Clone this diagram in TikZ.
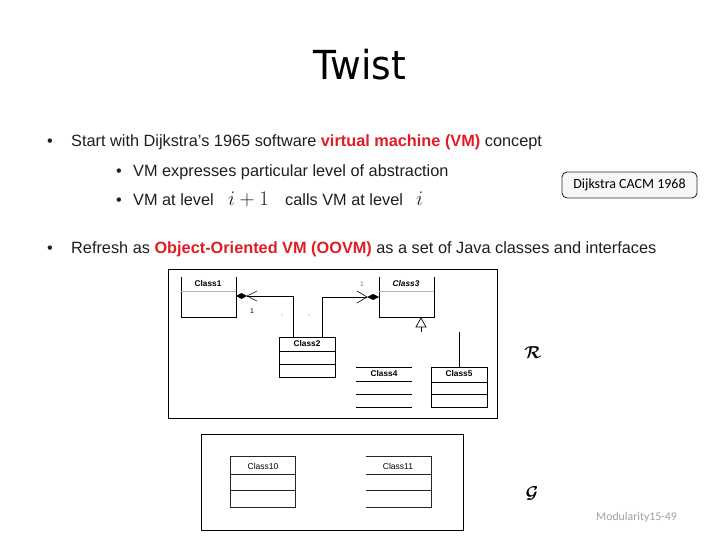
\documentclass[tikz,border=0pt]{standalone}
\usepackage{bm}
\usepackage{fontspec}
\setmainfont{Liberation Sans}
\newfontfamily\titlefont{DejaVu Sans}
\newfontfamily\calfont{Carlito}
\definecolor{hired}{RGB}{224,28,36}
\definecolor{txt}{RGB}{30,30,30}
\begin{document}
\begin{tikzpicture}[x=1pt,y=-1pt,
  body/.style={anchor=base west, inner sep=0, font=\fontsize{16.3}{19}\selectfont, text=txt},
  mathtxt/.style={anchor=base west, inner sep=0, font=\fontsize{20}{22}\selectfont, text=txt},
  umlline/.style={line width=0.8pt, black},
  sepline/.style={line width=0.8pt, gray!60},
  frame/.style={draw, line width=0.9pt, inner sep=0},
  clsname/.style={inner sep=0, font=\fontsize{8.3}{9}\selectfont\bfseries},
  clsname2/.style={inner sep=0, font=\fontsize{8.5}{9}\selectfont},
  tinylabel/.style={inner sep=0, font=\fontsize{7}{8}\selectfont},
  callig/.style={inner sep=0, font=\fontsize{18}{20}\selectfont}]
\useasboundingbox (0,0) rectangle (720,540);
% title
\node[inner sep=0, anchor=base, font=\titlefont\fontsize{40}{46}\selectfont] (title) at (360,80) {\scalebox{0.94}[1]{Twist}};
% bullets
\node[body] (b1) at (47,147) {•};
\node[body] (t1) at (71,147) {Start with Dijkstra’s 1965 software \textcolor{hired}{\textbf{virtual machine (VM)}} concept};
\node[body] (b2) at (116,177) {•};
\node[body] (t2) at (133,177) {VM expresses particular level of abstraction};
\node[body] (b3) at (116,206) {•};
\node[body] (t3) at (133,206) {VM at level};
\node[mathtxt] (m1) at (228,206) {$i+1$};
\node[body] (t3b) at (285,206) {calls VM at level};
\node[mathtxt] (m2) at (416,206) {$i$};
\node[body] (b4) at (47,254) {•};
\node[body] (t4) at (71,254) {Refresh as \textcolor{hired}{\textbf{Object-Oriented VM (OOVM)}} as a set of Java classes and interfaces};
% citation box
\node[draw=gray!35!black, fill=gray!6, rounded corners=5pt, line width=0.9pt, minimum width=135, minimum height=26, inner sep=0, font=\calfont\fontsize{14}{16}\selectfont] (dij) at (629.5,185) {Dijkstra CACM 1968};
% frames
\node[frame, minimum width=329, minimum height=149] (f1) at (332.5,343.5) {};
\node[frame, minimum width=262, minimum height=96] (f2) at (332,482) {};
% Class1
\draw[umlline] (181,277) -- (181,317) -- (236,317) -- (236,277);
\draw[sepline] (181,291) -- (236,291);
\node[clsname] (c1) at (208,284) {Class1};
% Class3
\draw[umlline] (379,277) -- (379,317) -- (434,317) -- (434,277);
\draw[sepline] (379,291) -- (434,291);
\node[clsname, font=\fontsize{8.3}{9}\selectfont\bfseries\itshape] (c3) at (406,284) {Class3};
% Class2
\draw[umlline] (279,337) rectangle (335,377);
\draw[umlline] (279,351) -- (335,351) (279,364) -- (335,364);
\node[clsname] (c2) at (307,344) {Class2};
% Class4
\draw[umlline] (356,367) -- (412,367) (356,381) -- (412,381) (356,394) -- (412,394) (356,407) -- (412,407);
\node[clsname] (c4) at (384,374) {Class4};
% Class5
\draw[umlline] (431,367) rectangle (487,407);
\draw[umlline] (431,382) -- (487,382) (431,394) -- (487,394);
\node[clsname] (c5) at (459,374) {Class5};
% connectors
\coordinate (c2l) at (293,337);
\coordinate (c1tip) at (247,296);
\draw[umlline] (c2l) |- (c1tip);
\fill (236,296) -- (241.5,293) -- (247,296) -- (241.5,299) -- cycle;
\draw[line width=0.6pt] (257,291) -- (c1tip) -- (257,301);
\coordinate (c2r) at (322,337);
\coordinate (c3tip) at (367,297);
\draw[umlline] (c2r) |- (c3tip);
\fill (367,297) -- (373,294) -- (379,297) -- (373,300) -- cycle;
\draw[line width=0.6pt] (357,291) -- (c3tip) -- (357,303);
\node[tinylabel] (m1l) at (252,311) {1};
\node[tinylabel, text=gray] (m3l) at (362,284) {1};
\fill[gray] (282,315) circle (0.7);
\fill[gray] (309,315) circle (0.7);
% generalization
\coordinate (gtip) at (421,318);
\draw[line width=0.7pt] (gtip) -- (426,327) -- (416,327) -- cycle;
\draw[line width=0.7pt] (421,327) -- (421,332);
\coordinate (c5top) at (459,367);
\draw[umlline] (459,332) -- (c5top);
% Class10 / Class11
\draw[umlline, gray!30!black] (230,456) rectangle (295,507);
\draw[umlline, gray!30!black] (230,474) -- (295,474) (230,490) -- (295,490);
\node[clsname2] (c10) at (263,466) {Class10};
\draw[umlline, gray!30!black] (366,456) -- (431,456) -- (431,507) -- (366,507);
\draw[umlline, gray!30!black] (366,474) -- (431,474) (366,490) -- (431,490);
\node[clsname2] (c11) at (398,466) {Class11};
% calligraphic letters
\node[callig] (calR) at (533,353) {$\bm{\mathcal{R}}$};
\node[callig] (calG) at (532,493) {$\bm{\mathcal{G}}$};
% footer
\node[anchor=base west, inner sep=0, text=gray!75, font=\calfont\fontsize{11.8}{13}\selectfont] (foot) at (596,520) {Modularity15-49};
\end{tikzpicture}
\end{document}
